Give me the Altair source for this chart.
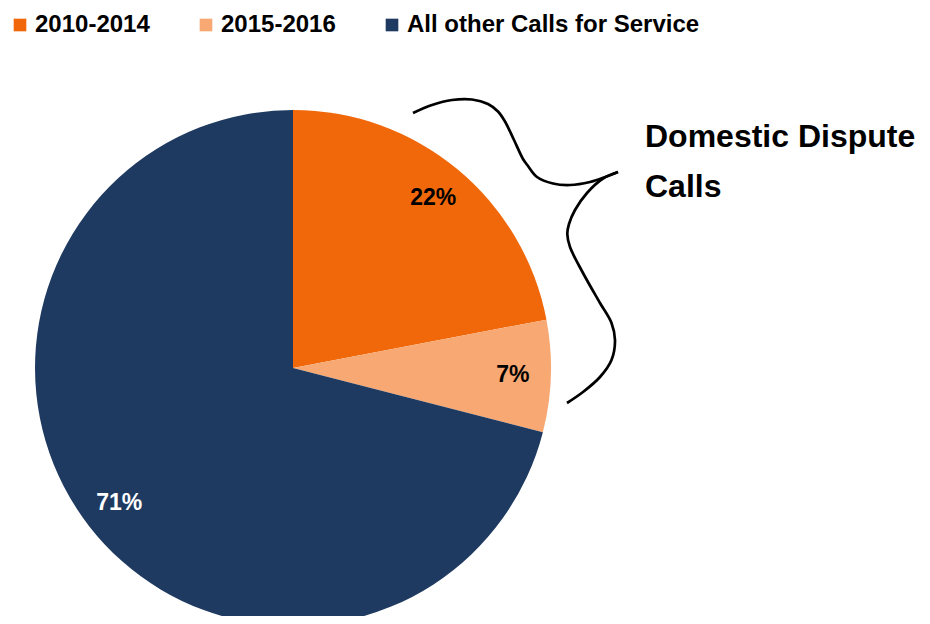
import altair as alt
import pandas as pd

# ---- data ----
categories = ["2010-2014", "2015-2016", "All other Calls for Service"]
shares = [22, 7, 71]
pct_labels = ["22%", "7%", "71%"]
label_colors = ["#000000", "#000000", "#ffffff"]
slice_colors = ["#F0680A", "#F8A872", "#1F3A60"]

annotation_text = "Domestic Dispute\nCalls"

# curly-brace annotation path (pixel positions inside the chart)
brace_upper_x = [405, 424, 444, 464, 480, 490, 497, 506, 515, 520, 529, 545, 562, 582, 596, 610]
brace_upper_y = [105, 97, 92, 91.5, 96, 103.5, 113.5, 132, 151, 158, 169, 175.5, 177, 174, 169.5, 164]
brace_lower_x = [610, 595, 579, 567, 561, 559.3, 562, 575, 592, 603.5, 607, 603.5, 592, 575, 559]
brace_lower_y = [164, 170.5, 185, 202, 216, 226, 239, 265, 295, 315, 332, 352, 369, 384, 395]

pie_df = pd.DataFrame({
    "category": categories,
    "share": shares,
    "order": list(range(len(categories))),
    "label": pct_labels,
    "label_color": label_colors,
})

brace_df = pd.concat([
    pd.DataFrame({"bx": brace_upper_x, "by": brace_upper_y, "seg": "upper",
                  "idx": range(len(brace_upper_x))}),
    pd.DataFrame({"bx": brace_lower_x, "by": brace_lower_y, "seg": "lower",
                  "idx": range(len(brace_lower_x))}),
])

CX, CY, R = 285, 360, 258
FONT = "Liberation Sans"

base = alt.Chart(pie_df).encode(
    theta=alt.Theta("share:Q", stack=True),
    order=alt.Order("order:Q"),
    x=alt.value(CX),
    y=alt.value(CY),
)

arcs = base.mark_arc(radius=R).encode(
    color=alt.Color(
        "category:N",
        sort=categories,
        scale=alt.Scale(domain=categories, range=slice_colors),
        legend=alt.Legend(
            title=None,
            orient="none",
            legendX=0,
            legendY=5,
            direction="horizontal",
            columns=3,
            symbolType="square",
            symbolSize=160,
            symbolStrokeWidth=0,
            labelFont=FONT,
            labelFontSize=24,
            labelFontWeight="bold",
            labelColor="#000000",
            labelLimit=600,
            labelOffset=3,
            columnPadding=44,
            padding=0,
        ),
    )
)

labels = base.mark_text(
    radius=220, font=FONT, fontSize=23, fontWeight="bold"
).encode(
    text="label:N",
    fill=alt.Fill("label_color:N", scale=None),
)

annot = alt.Chart(pd.DataFrame({"t": [annotation_text]})).mark_text(
    align="left", baseline="alphabetic", font=FONT, fontSize=32,
    fontWeight="bold", lineBreak="\n", lineHeight=50, color="#000000",
).encode(x=alt.value(637), y=alt.value(139), text="t:N")

brace = alt.Chart(brace_df).mark_line(
    interpolate="catmull-rom", color="#000000", strokeWidth=2.7
).encode(
    x=alt.X("bx:Q", scale=None, axis=None),
    y=alt.Y("by:Q", scale=None, axis=None),
    detail="seg:N",
    order="idx:Q",
)

chart = alt.layer(arcs, labels, brace, annot).properties(
    width=914, height=608,
    autosize=alt.AutoSizeParams(type="none"),
    padding=0,
).configure_view(stroke=None)

chart.save("out.html", embed_options={"renderer": "svg", "actions": False})
